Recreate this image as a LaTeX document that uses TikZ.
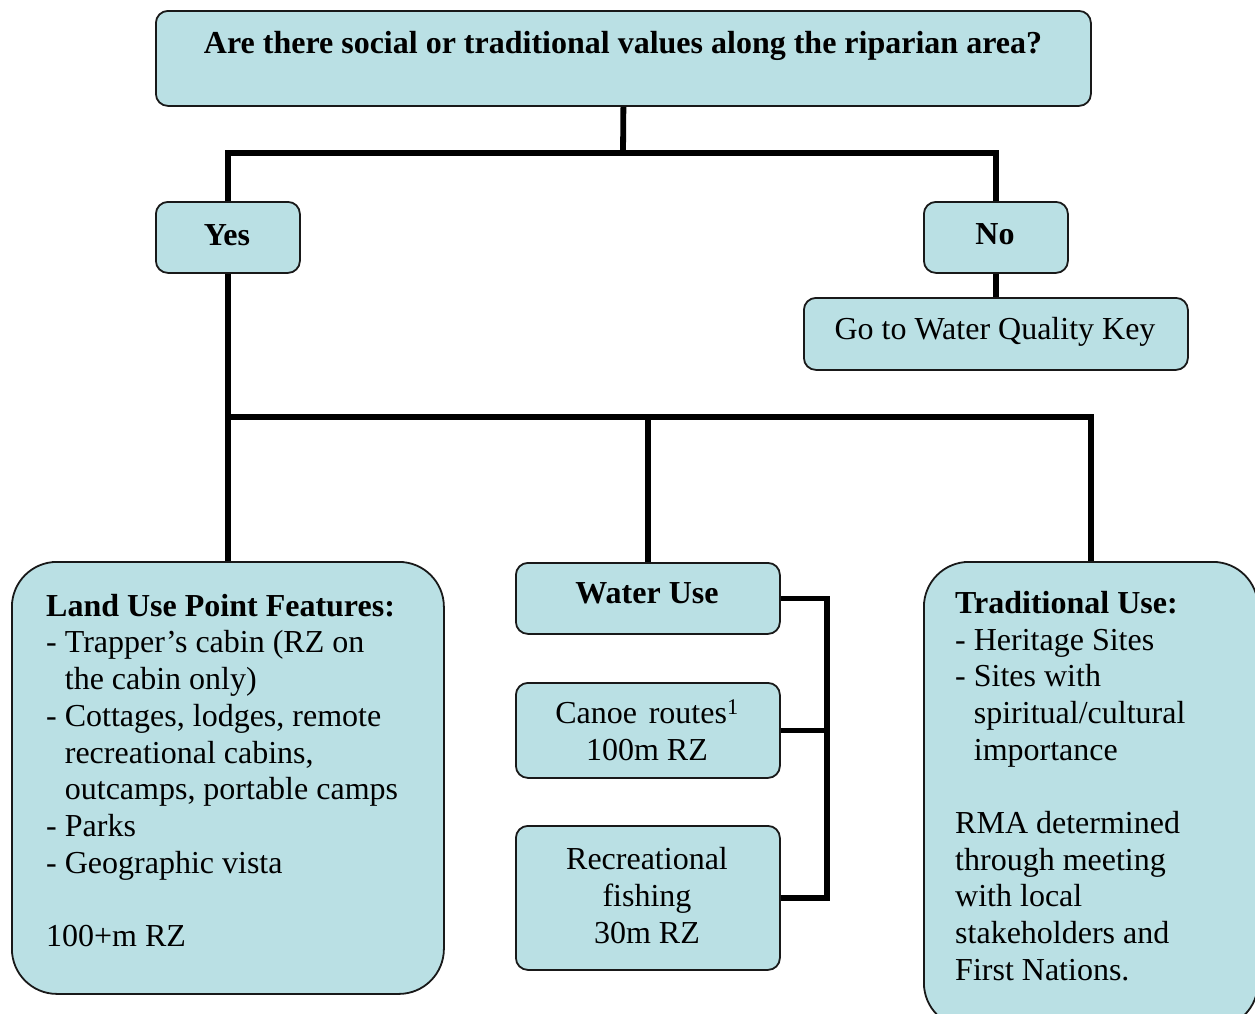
\documentclass[tikz,border=0pt]{standalone}
\usepackage{fontspec}
\setmainfont{Liberation Serif}
\definecolor{boxfill}{RGB}{186,224,228}
\definecolor{boxline}{RGB}{25,25,25}
\newcommand\keysize{\fontsize{32pt}{36.7pt}\selectfont}

\begin{document}
\begin{tikzpicture}[x=1pt,y=-1pt,
  every node/.style={font=\keysize, inner sep=0pt},
  keybox/.style={draw=boxline, line width=1.8pt, fill=boxfill, rounded corners=12pt, anchor=north west},
  bigbox/.style={keybox, rounded corners=45pt},
  conn/.style={line width=5.8pt, line join=miter, draw=black},
  listtext/.style={anchor=base west, align=left}]

\path[use as bounding box, clip] (0,0) rectangle (1255,1013);

% split points of the connector tree
\coordinate (qsplit) at (623,153);
\coordinate (ysplit) at (227,417);
\coordinate (bx) at (827,600);

% boxes
\node[keybox, minimum width=935pt, minimum height=95pt] (q) at (155,10) {};
\node[keybox, minimum width=144pt, minimum height=71pt] (yes) at (155,201) {};
\node[keybox, minimum width=144pt, minimum height=71pt] (no) at (923,201) {};
\node[keybox, minimum width=384pt, minimum height=72pt] (go) at (803,297) {};
\node[bigbox, minimum width=432pt, minimum height=432pt] (land) at (11,561) {};
\node[keybox, minimum width=264pt, minimum height=71pt] (water) at (515,562) {};
\node[keybox, minimum width=264pt, minimum height=95pt] (canoe) at (515,682) {};
\node[keybox, minimum width=264pt, minimum height=144pt] (fish) at (515,825) {};
\node[bigbox, minimum width=334pt, minimum height=466pt] (trad) at (923,561) {};

% connectors
\draw[conn] (q.south) -- (qsplit);
\draw[conn] (yes.north) -- (yes.north |- qsplit) -- (no.north |- qsplit) -- (no.north);
\draw[conn] (no.south) -- (go.north);
\draw[conn] (yes.south) -- (land.north);
\draw[conn] (ysplit) -| (trad.north);
\draw[conn] (ysplit -| water.north) -- (water.north);
\draw[conn] (water.east) -- (water.east -| bx) -- (fish.east -| bx) -- (fish.east);
\draw[conn] (canoe.east) -- (canoe.east -| bx);

% texts (multi-line nodes are placed by the baseline of their last line)
\node[anchor=base, font=\keysize\bfseries] (qt) at (623,53) {Are there social or traditional values along the riparian area?};
\node[anchor=base, font=\keysize\bfseries] (yest) at (227,245) {Yes};
\node[anchor=base, font=\keysize\bfseries] (not) at (995,244) {No};
\node[anchor=base] (got) at (995,339) {Go to Water Quality Key};
\node[anchor=base, font=\keysize\bfseries] (watert) at (647,603) {Water Use};
\node[anchor=base, align=center] (canoet) at (647,760.5) {Canoe\hspace{0.12em} routes\textsuperscript{1}\\100m RZ};
\node[anchor=base, align=center] (fisht) at (647,943.3) {Recreational\\fishing\\30m RZ};
\node[listtext] (landt) at (46,946.5) {\textbf{Land Use Point Features:}\\
- Trapper’s cabin (RZ on\\
\hphantom{- }the cabin only)\\
- Cottages, lodges, remote\\
\hphantom{- }recreational cabins,\\
\hphantom{- }outcamps, portable camps\\
- Parks\\
- Geographic vista\\
~\\
100+m RZ};
\node[listtext] (tradt) at (955,980.3) {\textbf{Traditional Use:}\\
- Heritage Sites\\
- Sites with\\
\hphantom{- }spiritual/cultural\\
\hphantom{- }importance\\
~\\
RMA determined\\
through meeting\\
with local\\
stakeholders and\\
First Nations.};
\end{tikzpicture}
\end{document}
